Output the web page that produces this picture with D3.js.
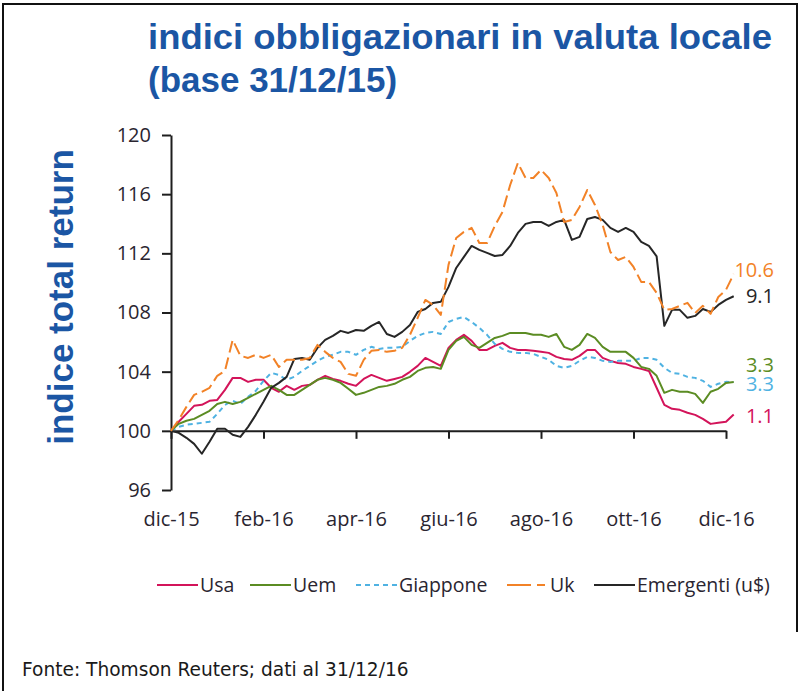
<!DOCTYPE html>
<html lang="it">
<head>
<meta charset="UTF-8">
<title>indici obbligazionari in valuta locale</title>
<script src="https://d3js.org/d3.v7.min.js"></script>
<style>
  body { margin: 0; background: #fff; }
  svg { display: block; }
  .axis path, .axis line { stroke: #1e1e1e; stroke-width: 2; }
  .axis text, .lab { font-family: "Open Sans", sans-serif; fill: #2a2530; }
  .title { font-family: "Liberation Sans", Arial, sans-serif; font-weight: bold; fill: #1b56a4; }
  .series { fill: none; stroke-width: 2; stroke-linejoin: round; }
  .note { font-family: "DejaVu Sans", Verdana, sans-serif; fill: #1a1a1a; }
</style>
</head>
<body>
<svg width="802" height="691"></svg>
<script>
// x in months from dic-15, one point every 1/6 month
const step = 1 / 6;
const monthTicks = [0, 2, 4, 6, 8, 10, 12];
const monthLabels = ["dic-15", "feb-16", "apr-16", "giu-16", "ago-16", "ott-16", "dic-16"];
const yTicks = [96, 100, 104, 108, 112, 116, 120];

const names = ["Usa", "Uem", "Giappone", "Uk", "Emergenti (u$)"];
const colors = ["#d3145a", "#5b8c23", "#4fb2e2", "#f28227", "#262626"];
const dashes = [null, null, "5,4", "12,5", null];

const usa = [100.00, 100.61, 101.15, 101.69, 101.76, 102.03, 102.09, 102.77, 103.58, 103.58,
  103.31, 103.45, 103.45, 102.91, 102.64, 103.04, 102.77, 103.04, 103.11, 103.45,
  103.72, 103.51, 103.38, 103.18, 103.04, 103.51, 103.78, 103.58, 103.38, 103.51,
  103.65, 103.99, 104.39, 104.93, 104.66, 104.39, 105.61, 106.15, 106.49, 106.08,
  105.47, 105.47, 105.74, 105.95, 105.61, 105.47, 105.47, 105.41, 105.34, 105.27,
  105.00, 104.86, 104.80, 105.07, 105.47, 105.47, 104.93, 104.73, 104.59, 104.53,
  104.32, 104.19, 104.05, 102.91, 101.76, 101.49, 101.42, 101.22, 101.08, 100.81,
  100.47, 100.54, 100.61, 101.10];

const uem = [100.00, 100.47, 100.68, 100.81, 101.08, 101.35, 101.82, 101.96, 101.82, 101.96,
  102.23, 102.50, 102.77, 103.04, 102.77, 102.43, 102.43, 102.77, 103.11, 103.45,
  103.58, 103.45, 103.24, 102.84, 102.43, 102.57, 102.77, 102.97, 103.04, 103.18,
  103.45, 103.65, 104.05, 104.26, 104.32, 104.19, 105.47, 106.08, 106.35, 105.81,
  105.61, 105.95, 106.28, 106.42, 106.62, 106.62, 106.62, 106.49, 106.49, 106.35,
  106.55, 105.68, 105.47, 105.81, 106.55, 106.28, 105.68, 105.34, 105.34, 105.34,
  104.93, 104.32, 104.19, 103.72, 102.57, 102.77, 102.64, 102.64, 102.50, 101.89,
  102.64, 102.84, 103.24, 103.30];

const giappone = [100.00, 100.27, 100.41, 100.47, 100.54, 100.61, 101.15, 101.76, 102.03, 101.82,
  102.30, 102.70, 103.38, 103.92, 103.78, 103.45, 103.65, 104.05, 104.39, 104.73,
  105.00, 105.14, 105.34, 105.34, 105.14, 105.47, 105.68, 105.54, 105.61, 105.61,
  105.68, 106.08, 106.42, 106.62, 106.69, 106.55, 107.36, 107.57, 107.70, 107.36,
  106.96, 106.49, 105.88, 105.54, 105.34, 105.27, 105.27, 105.20, 105.00, 104.80,
  104.39, 104.26, 104.39, 104.73, 105.00, 104.93, 104.73, 104.66, 104.73, 104.73,
  104.73, 104.93, 104.93, 104.80, 104.26, 103.92, 103.85, 103.65, 103.58, 103.38,
  102.97, 103.18, 103.31, 103.30];

const uk = [100.00, 100.74, 101.62, 102.43, 102.64, 102.91, 103.72, 104.05, 106.15, 105.07,
  104.93, 105.14, 104.93, 105.14, 104.32, 104.80, 104.80, 104.80, 104.93, 105.81,
  105.34, 104.93, 104.66, 103.85, 103.72, 104.80, 105.41, 105.47, 105.34, 105.41,
  105.61, 106.49, 107.64, 108.85, 108.51, 107.84, 111.22, 113.04, 113.45, 113.72,
  112.70, 112.70, 113.85, 114.80, 116.62, 118.11, 117.09, 117.09, 117.64, 117.09,
  116.08, 114.12, 114.26, 115.14, 116.28, 115.27, 113.92, 112.09, 111.55, 111.76,
  111.08, 110.07, 110.07, 109.32, 108.18, 108.24, 108.45, 108.65, 107.97, 108.45,
  107.91, 109.05, 109.53, 110.60];

const emergenti = [100.00, 99.86, 99.53, 99.12, 98.45, 99.26, 100.14, 100.14, 99.73, 99.59,
  100.27, 101.08, 101.96, 102.91, 103.24, 103.65, 104.86, 104.93, 104.80, 105.61,
  106.15, 106.42, 106.76, 106.62, 106.82, 106.76, 107.09, 107.36, 106.55, 106.35,
  106.69, 107.16, 108.04, 108.24, 108.65, 108.72, 109.73, 111.01, 111.76, 112.50,
  112.23, 112.03, 111.82, 111.89, 112.50, 113.38, 113.99, 114.12, 114.12, 113.85,
  114.12, 114.26, 112.91, 113.11, 114.32, 114.46, 114.26, 113.72, 113.45, 113.72,
  113.45, 112.77, 112.50, 111.80, 107.10, 108.18, 108.18, 107.64, 107.77, 108.24,
  108.04, 108.51, 108.85, 109.10];

const seriesValues = [usa, uem, giappone, uk, emergenti];

const svg = d3.select("svg");

const x = d3.scaleLinear().domain([0, 12]).range([171, 726]);
const y = d3.scaleLinear().domain([96, 120]).range([490, 135]);

// frame
svg.append("path")
  .attr("d", "M3,691 V4 H797 V632")
  .attr("fill", "none").attr("stroke", "#111").attr("stroke-width", 2);

// title
svg.append("text").attr("class", "title")
  .attr("x", 148).attr("y", 49).style("font-size", "35px")
  .attr("textLength", 624).attr("lengthAdjust", "spacingAndGlyphs")
  .text("indici obbligazionari in valuta locale");
svg.append("text").attr("class", "title")
  .attr("x", 148).attr("y", 92).style("font-size", "35px")
  .text("(base 31/12/15)");

// y axis title
svg.append("text").attr("class", "title")
  .attr("transform", "translate(73,297) rotate(-90)")
  .attr("text-anchor", "middle").style("font-size", "35px")
  .text("indice total return");

// axes
svg.append("g").attr("class", "axis")
  .attr("transform", "translate(171,0)")
  .call(d3.axisLeft(y).tickValues(yTicks).tickSize(9).tickSizeOuter(0).tickPadding(11))
  .call(g => g.selectAll("text").style("font-size", "20px"));

svg.append("g").attr("class", "axis")
  .attr("transform", `translate(0,${y(100)})`)
  .call(d3.axisBottom(x).tickValues(monthTicks).tickSize(8).tickSizeOuter(0).tickPadding(73)
    .tickFormat((d, i) => monthLabels[i]))
  .call(g => g.selectAll("text").style("font-size", "20px"));

// lines
const line = d3.line().x((d, i) => x(i * step)).y(d => y(d));
const drawOrder = [0, 2, 1, 4, 3];
drawOrder.forEach(k => {
  svg.append("path").attr("class", "series")
    .attr("d", line(seriesValues[k]))
    .attr("stroke", colors[k])
    .attr("stroke-dasharray", dashes[k]);
});

// end labels
const labelNudge = [8, -10, 9, 3, 7];
seriesValues.forEach((vals, k) => {
  const last = vals[vals.length - 1];
  svg.append("text").attr("class", "lab")
    .attr("x", 774).attr("y", y(last) + labelNudge[k])
    .attr("text-anchor", "end").style("font-size", "20px")
    .style("fill", colors[k])
    .text(d3.format(".1f")(last - 100));
});

// legend
const legendX = [157, 250, 356, 507, 594];
names.forEach((n, k) => {
  const g = svg.append("g").attr("transform", `translate(${legendX[k]},585)`);
  g.append("line").attr("x1", 0).attr("x2", 41)
    .attr("stroke", colors[k]).attr("stroke-width", 2)
    .attr("stroke-dasharray", k === 3 ? "24,6,8,6" : dashes[k]);
  g.append("text").attr("class", "lab").attr("x", 43).attr("dy", "0.35em")
    .style("font-size", "19.5px").text(n);
});

// source
svg.append("text").attr("class", "note")
  .attr("x", 22).attr("y", 676).style("font-size", "18.6px")
  .text("Fonte: Thomson Reuters; dati al 31/12/16");
</script>
</body>
</html>
